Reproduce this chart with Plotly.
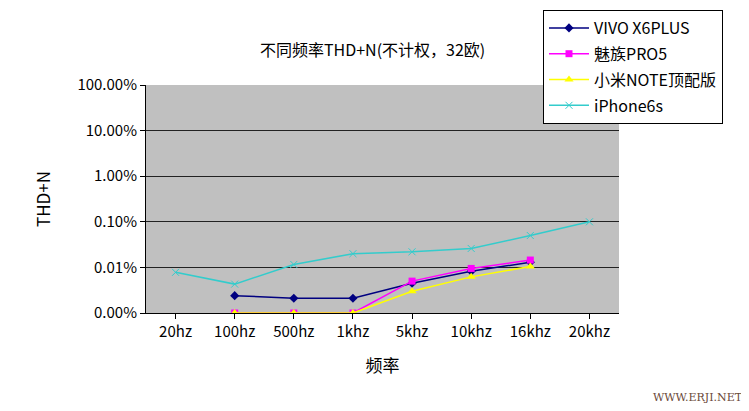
import plotly.graph_objects as go

cats = ["20hz","100hz","500hz","1khz","5khz","10khz","16khz","20khz"]
vivo = [None,0.0024,0.0021,0.0021,0.0045,0.0082,0.013,None]
meizu = [None,0.001,0.001,0.001,0.005,0.0095,0.0145,None]
xiaomi = [None,0.001,0.001,0.001,0.003,0.0062,0.0105,None]
iphone = [0.0078,0.0043,0.0116,0.02,0.022,0.026,0.05,0.1]
tickvals = [0.001,0.01,0.1,1,10,100]
ticktext = ["0.00%","0.01%","0.10%","1.00%","10.00%","100.00%"]

fig = go.Figure()
def add(name, y, color, symbol, size):
    fig.add_trace(go.Scatter(x=cats, y=y, name=name, mode="lines+markers", legendgroup=name,
        line=dict(color=color, width=1.5), marker=dict(color=color, symbol=symbol, size=size),
        connectgaps=False))
add("VIVO X6PLUS", vivo, "#000080", "diamond", 7)
add("魅族PRO5", meizu, "#FF00FF", "square", 7)
add("小米NOTE顶配版", xiaomi, "#FFFF00", "triangle-up", 8)
add("iPhone6s", iphone, "#33CCCC", "x-thin-open", 7)

FW, FH = 741, 403
OFF = 8
L, R, T, B = 146 - OFF, 619 - OFF, 85 - OFF, 313 - OFF
W, H = R - L, B - T
def px(x): return (x - OFF - L) / W
def py(y): return (B - (y - OFF)) / H

font = "Noto Sans CJK SC"
fig.update_layout(
    width=FW, height=FH, margin=dict(l=L, r=FW-R, t=T, b=FH-B, autoexpand=False),
    paper_bgcolor="white", plot_bgcolor="#C0C0C0",
    font=dict(family=font, size=14, color="black"),
    showlegend=True,
    legend=dict(x=px(543), y=py(10), xanchor="left", yanchor="top",
                bgcolor="white", bordercolor="black", borderwidth=1, font=dict(size=16),
                tracegroupgap=2, itemwidth=40),
    annotations=[
        dict(text="不同频率THD+N(不计权，32欧)", x=px(372), y=py(35), xref="paper", yref="paper",
             showarrow=False, font=dict(size=16)),
        dict(text="WWW.ERJI.NET", x=px(745), y=py(406), xref="paper", yref="paper",
             xanchor="right", yanchor="bottom", showarrow=False,
             font=dict(family="DejaVu Serif", size=11, color="#6b4a3a")),
    ],
)
fig.update_xaxes(title=dict(text="频率", standoff=20), showgrid=False, showline=True, linecolor="black",
                 ticks="outside", tickcolor="black", range=[-0.5,7.5], automargin=False,
                 tickfont=dict(size=15))
fig.update_yaxes(title=dict(text="THD+N", standoff=22), type="log", range=[-3,2], tickvals=tickvals, ticktext=ticktext,
                 showgrid=True, gridcolor="#222222", gridwidth=1, showline=True, linecolor="black",
                 ticks="outside", tickcolor="black", zeroline=False, automargin=False,
                 tickfont=dict(size=15))
fig.write_html("out.html")
